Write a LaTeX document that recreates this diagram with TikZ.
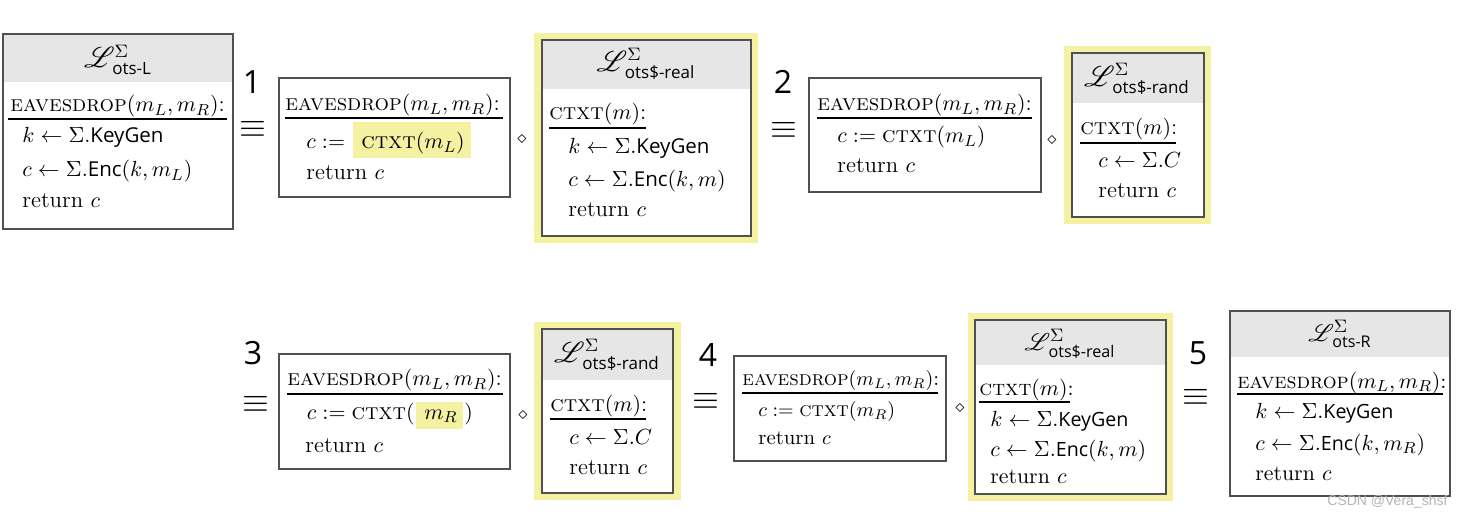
\documentclass[tikz,border=0pt]{standalone}
\usepackage{amsmath}
\usepackage{mathrsfs}
\usepackage{fontspec}
\newfontfamily\osans[Scale=0.9]{Open Sans}
\newfontfamily\numfont{Open Sans}
\newfontfamily\wmfont{Liberation Sans}
\definecolor{hdrgray}{HTML}{E6E6E6}
\definecolor{hlyel}{HTML}{F4F1A2}
\definecolor{boxc}{HTML}{505050}
\definecolor{wmgray}{HTML}{B4B4B4}
\newcommand\mainsz{\fontsize{11.4}{14}\selectfont}
\newcommand\smallsz{\fontsize{10.4}{13}\selectfont}
\newcommand\midsz{\fontsize{10.9}{13}\selectfont}
\newcommand\ttlsz{\fontsize{13.5}{16}\selectfont}
\newcommand\numsz{\fontsize{16}{18}\numfont}
\newcommand\Sf[1]{\text{\osans #1}}
\newcommand\Lib[1]{\mathscr{L}^{\Sigma}_{\mkern3mu\Sf{#1}}}
\newcommand\EAV{\textsc{eavesdrop}$(m_L, m_R)$:}
\newcommand\CTX{\textsc{ctxt}}
\newcommand\PkgBox[4]{\fill[white](#1,#2) rectangle (#3,#4); \draw[pkg](#1,#2) rectangle (#3,#4);}
\newcommand\PkgHead[5]{\fill[white](#1,#2) rectangle (#3,#4); \fill[hdrgray](#1,#2) rectangle (#3,#5); \draw[pkg](#1,#2) rectangle (#3,#4);}
\begin{document}
\begin{tikzpicture}[x=0.5pt,y=-0.5pt,
  pkg/.style={draw=boxc, line width=0.75pt},
  ln/.style={anchor=base west, inner sep=0pt, font=\mainsz},
  lnm/.style={anchor=base west, inner sep=0pt, font=\midsz},
  lns/.style={anchor=base west, inner sep=0pt, font=\smallsz},
  ttl/.style={anchor=center, inner sep=0pt, font=\ttlsz},
  num/.style={anchor=center, inner sep=0pt, font=\numsz},
  eqv/.style={anchor=center, inner sep=0pt, font=\fontsize{16}{18}\selectfont},
  dmd/.style={anchor=center, inner sep=0pt, font=\fontsize{9}{10}\selectfont},
  uline/.style={draw=black, line width=0.6pt},
  wm/.style={anchor=base west, inner sep=0pt, text=wmgray, font=\fontsize{7}{8}\wmfont}]
\useasboundingbox (0,0) rectangle (1462,518);

% ---------- Box A : L ots-L ----------
\PkgHead{3}{34}{233}{229}{82}
\node[ttl] (tA) at (118,60) {$\Lib{ots-L}$};
\node[ln] (a1) at (10,112) {\EAV};
\draw[uline] (8,119) -- (227,119);
\node[ln] (a2) at (22,143) {$k \leftarrow \Sigma.\Sf{KeyGen}$};
\node[ln] (a3) at (22,177) {$c \leftarrow \Sigma.\Sf{Enc}(k, m_L)$};
\node[ln] (a4) at (22,208) {return $c$};

\node[num] (n1) at (252,82) {1};
\node[eqv] (e1) at (253,129) {$\equiv$};

% ---------- Box B ----------
\PkgBox{279}{78}{510}{197}
\fill[hlyel] (353,122) rectangle (471,158);
\node[ln] (b1) at (285,111) {\EAV};
\draw[uline] (285,118) -- (503,118);
\node[ln] (b2) at (306,149) {$c \mathrel{:=}$};
\node[ln] (b3) at (361,149) {\CTX$(m_L)$};
\node[ln] (b4) at (306,180) {return $c$};

\node[dmd] (d1) at (522,139) {$\diamond$};

% ---------- Box C : ots$-real ----------
\fill[hlyel] (534,33) rectangle (758,243);
\PkgHead{542}{40}{751}{236}{89}
\node[ttl] (tC) at (646,64) {$\Lib{ots\$-real}$};
\node[ln] (c1) at (549,120) {\CTX$(m)$:};
\draw[uline] (549,128) -- (646,128);
\node[ln] (c2) at (568,154) {$k \leftarrow \Sigma.\Sf{KeyGen}$};
\node[ln] (c3) at (568,187) {$c \leftarrow \Sigma.\Sf{Enc}(k, m)$};
\node[ln] (c4) at (568,217) {return $c$};

\node[num] (n2) at (783,82) {2};
\node[eqv] (e2) at (784,130) {$\equiv$};

% ---------- Box D ----------
\PkgBox{809}{78}{1041}{192}
\node[ln] (d1t) at (817,111) {\EAV};
\draw[uline] (817,118) -- (1032,118);
\node[ln] (d2) at (837,143) {$c \mathrel{:=} \text{\CTX}(m_L)$};
\node[ln] (d3) at (837,173) {return $c$};

\node[dmd] (d2m) at (1052,140) {$\diamond$};

% ---------- Box E : ots$-rand ----------
\fill[hlyel] (1064,46) rectangle (1211,224);
\PkgHead{1072}{53}{1204}{217}{103}
\node[ttl] (tE) at (1137,79) {$\Lib{ots\$-rand}$};
\node[ln] (e1t) at (1080,135) {\CTX$(m)$:};
\draw[uline] (1080,143) -- (1176,143);
\node[ln] (e2t) at (1098,168) {$c \leftarrow \Sigma.C$};
\node[ln] (e3t) at (1098,198) {return $c$};

% ---------- Row 2 ----------
\node[num] (n3) at (253,353) {3};
\node[eqv] (e3) at (256,404) {$\equiv$};

% ---------- Box F ----------
\PkgBox{279}{354}{510}{469}
\fill[hlyel] (416,402) rectangle (463,429);
\node[ln] (f1) at (287,386) {\EAV};
\draw[uline] (287,394) -- (503,394);
\node[ln,anchor=base east] (f2) at (415,419) {$c \mathrel{:=} \text{\CTX}($};
\node[ln] (f3) at (424,419) {$m_R$};
\node[ln] (f4) at (464,419) {$)$};
\node[ln] (f5) at (305,452) {return $c$};

\node[dmd] (d3m) at (523,415) {$\diamond$};

% ---------- Box G : ots$-rand ----------
\fill[hlyel] (534,322) rectangle (681,500);
\PkgHead{542}{329}{673}{493}{380}
\node[ttl] (tG) at (607,355) {$\Lib{ots\$-rand}$};
\node[ln] (g1) at (550,411) {\CTX$(m)$:};
\draw[uline] (550,419) -- (646,419);
\node[ln] (g2) at (569,444) {$c \leftarrow \Sigma.C$};
\node[ln] (g3) at (569,474) {return $c$};

\node[num] (n4) at (708,355) {4};
\node[eqv] (e4) at (706,401) {$\equiv$};

% ---------- Box H ----------
\PkgBox{734}{356}{946}{461}
\node[lns] (h1) at (742,386) {\EAV};
\draw[uline] (742,393) -- (938,393);
\node[lns] (h2) at (758,416) {$c \mathrel{:=} \text{\CTX}(m_R)$};
\node[lns] (h3) at (758,444) {return $c$};

\node[dmd] (d4m) at (960,408) {$\diamond$};

% ---------- Box I : ots$-real ----------
\fill[hlyel] (968,313) rectangle (1173,501);
\PkgHead{975}{320}{1166}{494}{365}
\node[ttl,font=\fontsize{12.8}{15}\selectfont] (tI) at (1070,344) {$\Lib{ots\$-real}$};
\node[lnm] (i1) at (979,395) {\CTX$(m)$:};
\draw[uline] (979,402) -- (1070,402);
\node[lnm] (i2) at (990,426) {$k \leftarrow \Sigma.\Sf{KeyGen}$};
\node[lnm] (i3) at (990,456) {$c \leftarrow \Sigma.\Sf{Enc}(k, m)$};
\node[lnm] (i4) at (990,483) {return $c$};

\node[num] (n5) at (1198,353) {5};
\node[eqv] (e5) at (1196,397) {$\equiv$};

% ---------- Box J : L ots-R ----------
\PkgHead{1230}{311}{1450}{496}{357}
\node[ttl,font=\fontsize{12.8}{15}\selectfont] (tJ) at (1340,334) {$\Lib{ots-R}$};
\node[lnm] (j1) at (1237,388) {\EAV};
\draw[uline] (1237,394) -- (1443,394);
\node[lnm] (j2) at (1255,418) {$k \leftarrow \Sigma.\Sf{KeyGen}$};
\node[lnm] (j3) at (1255,450) {$c \leftarrow \Sigma.\Sf{Enc}(k, m_R)$};
\node[lnm] (j4) at (1255,480) {return $c$};

\node[wm] (wm) at (1327,505) {CSDN @Vera\_shsf};
\end{tikzpicture}
\end{document}
